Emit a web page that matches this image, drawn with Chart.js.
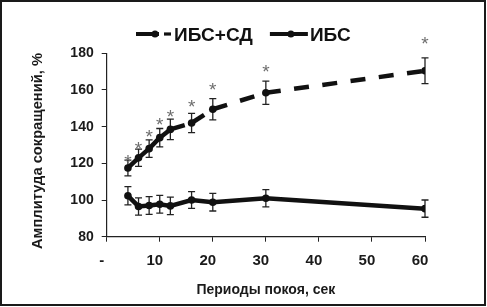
<!DOCTYPE html>
<html><head><meta charset="utf-8">
<script src="https://cdn.jsdelivr.net/npm/chart.js@4.4.0/dist/chart.umd.min.js"></script>
<style>
html,body{margin:0;padding:0;background:#fff;}
#wrap{position:relative;width:487px;height:307px;}
#frame{position:absolute;left:0;top:0;width:486px;height:306px;box-sizing:border-box;border:2px solid #1a1a1a;pointer-events:none;}
canvas{position:absolute;left:0;top:0;}
</style></head><body>
<div id="wrap"><canvas id="c" width="487" height="307"></canvas><div id="frame"></div></div>
<script>
// ---- data ----
const restPeriods = [4, 6, 8, 10, 12, 16, 20, 30, 60];
const ihdDiabetes = [117.5, 123, 128, 134, 138.5, 142, 149.5, 158.5, 170.5];
const ihdDiabetesErr = [4.3, 4.7, 4.8, 5, 5.6, 5.2, 5.8, 6.3, 7];
const ihd = [102.3, 96.5, 97, 97.7, 96.8, 100, 98.8, 101, 95.3];
const ihdErr = [5, 4.7, 4.8, 4.8, 4.8, 4.6, 4.8, 4.7, 4.7];
const sigMarkY = [123.7, 130.4, 137.3, 143.7, 148.2, 153.6, 162.7, 172.7, 188];
const seriesNames = ['ИБС+СД', 'ИБС'];
const xTickLabels = ['-', '10', '20', '30', '40', '50', '60'];
const xTitle = 'Периоды покоя, сек';
const yTitle = 'Амплитуда сокращений, %';

const FONT = "'Liberation Sans', Arial, sans-serif";
const INK = '#111';

const toPts = (ys) => restPeriods.map((x, i) => ({x: x, y: ys[i]}));

const extras = {
  id: 'extras',
  beforeDatasetsDraw(chart) {
    const {ctx, scales: {x, y}} = chart;
    const errs = [ihdDiabetesErr, ihdErr];
    const vals = [ihdDiabetes, ihd];
    ctx.save();
    ctx.strokeStyle = '#222';
    ctx.lineWidth = 1.3;
    ctx.setLineDash([]);
    vals.forEach((arr, d) => {
      arr.forEach((v, i) => {
        const px = x.getPixelForValue(restPeriods[i]);
        const top = y.getPixelForValue(v + errs[d][i]);
        const bot = y.getPixelForValue(v - errs[d][i]);
        ctx.beginPath();
        ctx.moveTo(px, top); ctx.lineTo(px, bot);
        ctx.moveTo(px - 3.5, top); ctx.lineTo(px + 3.5, top);
        ctx.moveTo(px - 3.5, bot); ctx.lineTo(px + 3.5, bot);
        ctx.stroke();
      });
    });
    ctx.restore();
  },
  afterDatasetsDraw(chart) {
    const {ctx, scales: {x, y}} = chart;
    ctx.save();
    const fs = 19;
    ctx.font = 'normal ' + fs + 'px ' + FONT;
    ctx.fillStyle = '#6e6e6e';
    ctx.textAlign = 'center';
    ctx.textBaseline = 'alphabetic';
    sigMarkY.forEach((v, i) => {
      const px = x.getPixelForValue(restPeriods[i]);
      const py = y.getPixelForValue(v);
      ctx.fillText('*', px, py + 0.58 * fs);
    });
    ctx.restore();
  },
  afterDraw(chart) {
    const {ctx, chartArea} = chart;
    // y axis title
    ctx.save();
    ctx.font = 'bold 14.7px ' + FONT;
    ctx.fillStyle = '#1a1a1a';
    ctx.textAlign = 'center';
    ctx.textBaseline = 'middle';
    ctx.translate(38, (chartArea.top + chartArea.bottom) / 2 + 6);
    ctx.rotate(-Math.PI / 2);
    ctx.fillText(yTitle, 0, 0);
    ctx.restore();
    // legend
    ctx.save();
    const fs = 19;
    ctx.font = 'bold ' + fs + 'px ' + FONT;
    const cy = 34;
    const sampleW = [35, 38];
    const gapText = [3, 2];
    const gapItem = 17;
    const widths = seriesNames.map(t => ctx.measureText(t).width);
    let total = 0;
    seriesNames.forEach((t, i) => { total += sampleW[i] + gapText[i] + widths[i]; });
    total += gapItem;
    let x0 = Math.round(chart.width / 2 - total / 2);
    seriesNames.forEach((t, i) => {
      ctx.strokeStyle = INK; ctx.fillStyle = INK;
      ctx.lineCap = 'butt';
      if (i === 0) {
        ctx.lineWidth = 4;
        ctx.beginPath(); ctx.moveTo(x0, cy); ctx.lineTo(x0 + 23, cy); ctx.stroke();
        ctx.beginPath(); ctx.arc(x0 + 19, cy, 3.5, 0, Math.PI * 2); ctx.fill();
        ctx.lineWidth = 3.2;
        ctx.beginPath(); ctx.moveTo(x0 + 28, cy); ctx.lineTo(x0 + 35, cy); ctx.stroke();
      } else {
        ctx.lineWidth = 4;
        ctx.beginPath(); ctx.moveTo(x0, cy); ctx.lineTo(x0 + sampleW[i], cy); ctx.stroke();
        ctx.beginPath(); ctx.arc(x0 + sampleW[i] / 2 + 2, cy, 3.5, 0, Math.PI * 2); ctx.fill();
      }
      ctx.textAlign = 'left';
      ctx.textBaseline = 'alphabetic';
      ctx.fillText(t, x0 + sampleW[i] + gapText[i], cy + 7);
      x0 += sampleW[i] + gapText[i] + widths[i] + gapItem;
    });
    ctx.restore();
  }
};

new Chart(document.getElementById('c'), {
  type: 'line',
  data: {
    datasets: [
      {
        label: seriesNames[0],
        data: toPts(ihdDiabetes),
        borderColor: INK, backgroundColor: INK,
        borderWidth: 4.5, borderDash: [15, 13.5],
        // restart the dash pattern on every segment (as the original does)
        segment: {borderDashOffset: (c) => c.p0DataIndex * 0.001},
        pointRadius: 3.8, pointBackgroundColor: INK, pointBorderWidth: 0,
        tension: 0
      },
      {
        label: seriesNames[1],
        data: toPts(ihd),
        borderColor: INK, backgroundColor: INK,
        borderWidth: 4.5,
        pointRadius: 3.8, pointBackgroundColor: INK, pointBorderWidth: 0,
        tension: 0
      }
    ]
  },
  options: {
    responsive: false,
    animation: false,
    devicePixelRatio: 1,
    layout: {padding: {left: 20, top: 53.3, right: 62, bottom: 0}},
    plugins: {legend: {display: false}, tooltip: {enabled: false}},
    scales: {
      x: {
        type: 'linear', min: 0, max: 60,
        afterFit(s) { s.height = 70.3; },
        grid: {drawOnChartArea: false, drawTicks: true, tickLength: 5, color: '#222'},
        border: {display: true, color: '#222', width: 1.2},
        ticks: {
          stepSize: 10, color: '#1a1a1a', padding: 10, labelOffset: -5,
          font: {family: FONT, size: 15, weight: 'bold'},
          callback: (v) => xTickLabels[Math.round(v / 10)]
        },
        title: {display: true, text: xTitle, color: '#1a1a1a',
          font: {family: FONT, size: 14, weight: 'bold'}, padding: {top: 0, bottom: 8.6}}
      },
      y: {
        min: 80, max: 180,
        afterFit(s) { s.width = 86.7; },
        grid: {drawOnChartArea: false, drawTicks: true, tickLength: 5, color: '#222'},
        border: {display: true, color: '#222', width: 1.2},
        ticks: {stepSize: 20, color: '#1a1a1a', padding: 8,
          font: {family: FONT, size: 14, weight: 'bold'}},
        title: {display: false}
      }
    }
  },
  plugins: [extras]
});
</script>
</body></html>
